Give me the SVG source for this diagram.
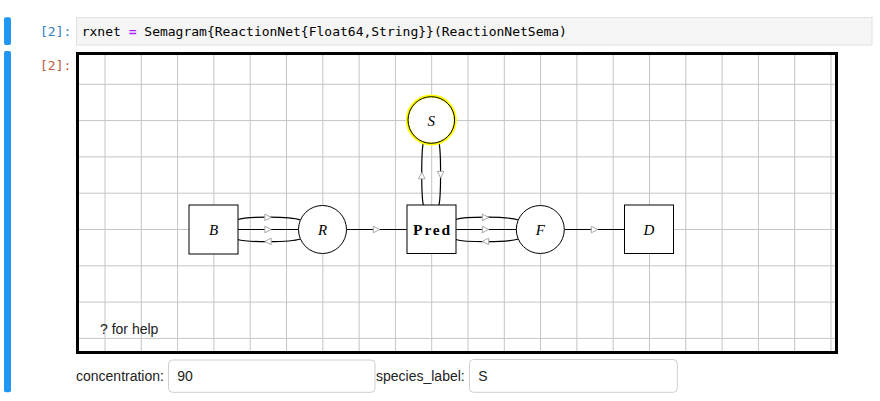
<svg xmlns="http://www.w3.org/2000/svg" xmlns:xlink="http://www.w3.org/1999/xlink" width="880" height="401" viewBox="0 0 880 401">
<style>
.bar{fill:#2196f3}
.prompt{font-family:"DejaVu Sans Mono","Liberation Mono",monospace;font-size:13px}
.code{font-family:"DejaVu Sans Mono","Liberation Mono",monospace;font-size:13px;fill:#000}
.grid line{stroke:#c4c4c4;stroke-width:1}
.node rect,.node circle{fill:#fff;stroke:#000;stroke-width:1}
.node circle.hl{fill:#fff;stroke:#ffff00;stroke-width:3}
.node circle.ring{fill:none;stroke:#000;stroke-width:1}
.lbl{font-family:"Liberation Serif",serif;font-style:italic;font-size:15px;fill:#000;text-anchor:middle}
.edge{fill:none;stroke:#000;stroke-width:1.2}
.ah{fill:#fff;stroke:#a8a8a8;stroke-width:1}
.ui{font-family:"Liberation Sans",Arial,sans-serif;font-size:14px;fill:#222}
.inp{fill:#fff;stroke:#cfcfcf;stroke-width:1}
</style>
<defs>
<polygon id="ah" class="ah" points="-3.2,-3.3 3.2,0 -3.2,3.3"/>
</defs>
<rect width="880" height="401" fill="#fff"/>
<!-- notebook chrome -->
<g id="cell-in">
<rect class="bar" x="4" y="17.3" width="7" height="27.7" rx="2"/>
<text class="prompt" x="40" y="35.5" fill="#307fc1">[2]:</text>
<rect x="76.5" y="17.5" width="795.5" height="27.5" fill="#f5f5f5" stroke="#e0e0e0"/>
<text class="code" x="81.7" y="35.5" xml:space="preserve">rxnet <tspan fill="#aa22ff" font-weight="bold">=</tspan> Semagram{ReactionNet{Float64,String}}(ReactionNetSema)</text>
</g>
<g id="cell-out">
<rect class="bar" x="4" y="51" width="7" height="341.3" rx="2"/>
<text class="prompt" x="40" y="70" fill="#bf5b3d">[2]:</text>
</g>
<!-- canvas -->
<rect x="77.5" y="53.5" width="759" height="299" fill="#fff"/>
<g class="grid">
<line x1="105" y1="55" x2="105" y2="351"/><line x1="141.3" y1="55" x2="141.3" y2="351"/><line x1="177.6" y1="55" x2="177.6" y2="351"/><line x1="213.9" y1="55" x2="213.9" y2="351"/><line x1="250.2" y1="55" x2="250.2" y2="351"/><line x1="286.5" y1="55" x2="286.5" y2="351"/><line x1="322.8" y1="55" x2="322.8" y2="351"/><line x1="359.1" y1="55" x2="359.1" y2="351"/><line x1="395.4" y1="55" x2="395.4" y2="351"/><line x1="431.7" y1="55" x2="431.7" y2="351"/><line x1="468" y1="55" x2="468" y2="351"/><line x1="504.3" y1="55" x2="504.3" y2="351"/><line x1="540.6" y1="55" x2="540.6" y2="351"/><line x1="576.9" y1="55" x2="576.9" y2="351"/><line x1="613.2" y1="55" x2="613.2" y2="351"/><line x1="649.5" y1="55" x2="649.5" y2="351"/><line x1="685.8" y1="55" x2="685.8" y2="351"/><line x1="722.1" y1="55" x2="722.1" y2="351"/><line x1="758.4" y1="55" x2="758.4" y2="351"/><line x1="794.7" y1="55" x2="794.7" y2="351"/><line x1="831" y1="55" x2="831" y2="351"/>
<line x1="79" y1="84.3" x2="835" y2="84.3"/><line x1="79" y1="120.6" x2="835" y2="120.6"/><line x1="79" y1="156.9" x2="835" y2="156.9"/><line x1="79" y1="193.2" x2="835" y2="193.2"/><line x1="79" y1="229.5" x2="835" y2="229.5"/><line x1="79" y1="265.8" x2="835" y2="265.8"/><line x1="79" y1="302.1" x2="835" y2="302.1"/><line x1="79" y1="338.4" x2="835" y2="338.4"/>
</g>
<rect x="77.5" y="53.5" width="759" height="299" fill="none" stroke="#000" stroke-width="3"/>
<!-- connectors -->
<g id="connectors">
<path class="edge" d="M237.5,219.5 C248,216.3 290,216.3 300.5,220"/>
<path class="edge" d="M237.5,229.5 L298.5,229.5"/>
<path class="edge" d="M237.5,239.5 C248,242.5 290,242.5 300.5,239"/>
<path class="edge" d="M346.5,229.5 L406.5,229.5"/>
<path class="edge" d="M455.5,219.5 C466,216.3 508,216.3 518.5,220"/>
<path class="edge" d="M455.5,229.5 L516.5,229.5"/>
<path class="edge" d="M455.5,239.5 C466,242.5 508,242.5 518.5,239"/>
<path class="edge" d="M564.5,229.5 L624.5,229.5"/>
<path class="edge" d="M423.3,205 C421.2,195 421.2,152 423.3,142.7"/>
<path class="edge" d="M439,142.7 C441.1,152 441.1,195 439,205"/>
<use xlink:href="#ah" transform="translate(268,217.4)"/>
<use xlink:href="#ah" transform="translate(268,229.5)"/>
<use xlink:href="#ah" transform="translate(268,241.4) rotate(180)"/>
<use xlink:href="#ah" transform="translate(376.5,229.5)"/>
<use xlink:href="#ah" transform="translate(485.5,217.4)"/>
<use xlink:href="#ah" transform="translate(485.5,229.5)"/>
<use xlink:href="#ah" transform="translate(485.5,241.4) rotate(180)"/>
<use xlink:href="#ah" transform="translate(594.5,229.5)"/>
<use xlink:href="#ah" transform="translate(421.8,175.6) rotate(-90)"/>
<use xlink:href="#ah" transform="translate(440.6,174.6) rotate(90)"/>
</g>
<!-- nodes -->
<g id="node-B" class="node"><rect x="189" y="205" width="49" height="49"/><text class="lbl" x="213.5" y="235">B</text></g>
<g id="node-R" class="node"><circle cx="322.5" cy="229.5" r="24"/><text class="lbl" x="322.5" y="235">R</text></g>
<g id="node-Pred" class="node"><rect x="407" y="205" width="49" height="48.5"/><text x="432.5" y="234.7" font-family="'Liberation Serif',serif" font-weight="bold" font-size="15.5" letter-spacing="1.8" text-anchor="middle" fill="#000">Pred</text></g>
<g id="node-F" class="node"><circle cx="540.3" cy="229.5" r="24"/><text class="lbl" x="540.3" y="235">F</text></g>
<g id="node-D" class="node"><rect x="624.5" y="205" width="49" height="48.5"/><text class="lbl" x="649" y="235">D</text></g>
<g id="node-S" class="node"><circle class="hl" cx="431.3" cy="120" r="24"/><circle class="ring" cx="431.3" cy="120" r="23.3"/><text class="lbl" x="431.3" y="126">S</text></g>
<text class="ui" x="100" y="333.5">? for help</text>
<!-- widgets -->
<g id="widgets">
<text class="ui" x="76" y="381">concentration:</text>
<rect class="inp" x="168.5" y="360" width="206.5" height="32.3" rx="4"/>
<text class="ui" x="177.3" y="381">90</text>
<text class="ui" x="376" y="381">species_label:</text>
<rect class="inp" x="469.5" y="359.5" width="207.8" height="32.8" rx="4"/>
<text class="ui" x="478.3" y="381">S</text>
</g>
</svg>
